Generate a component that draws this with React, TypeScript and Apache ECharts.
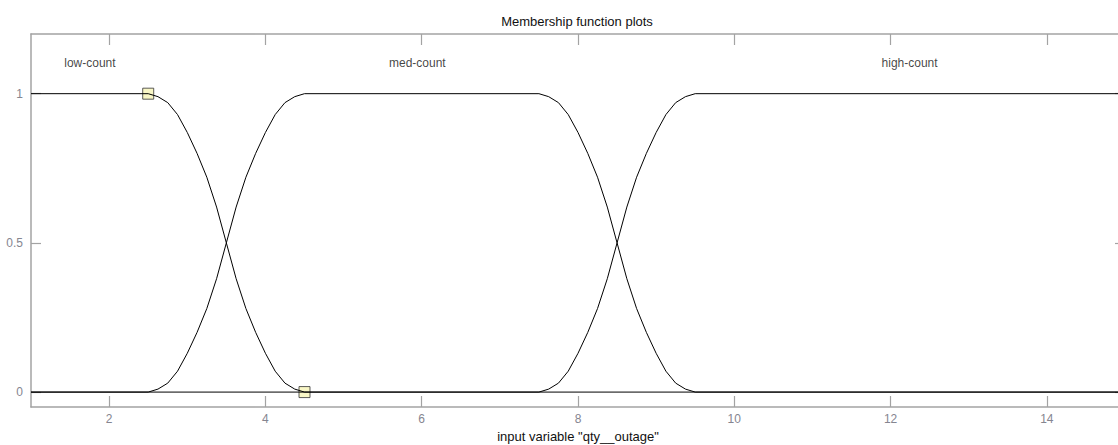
import React, { useEffect, useRef } from "react";
import * as echarts from "echarts";

// Membership functions of input variable "qty__outage"
const lowX = [1, 2.5, 2.625, 2.75, 2.875, 3, 3.125, 3.25, 3.375, 3.5, 3.625, 3.75, 3.875, 4, 4.125, 4.25, 4.375, 4.5, 15];
const lowY = [1, 1, 0.99, 0.97, 0.93, 0.87, 0.8, 0.72, 0.62, 0.5, 0.38, 0.28, 0.2, 0.13, 0.07, 0.03, 0.01, 0, 0];

const medX = [
  1, 2.5, 2.625, 2.75, 2.875, 3, 3.125, 3.25, 3.375, 3.5, 3.625, 3.75, 3.875, 4, 4.125, 4.25, 4.375, 4.5,
  7.5, 7.625, 7.75, 7.875, 8, 8.125, 8.25, 8.375, 8.5, 8.625, 8.75, 8.875, 9, 9.125, 9.25, 9.375, 9.5, 15,
];
const medY = [
  0, 0, 0.01, 0.03, 0.07, 0.13, 0.2, 0.28, 0.38, 0.5, 0.62, 0.72, 0.8, 0.87, 0.93, 0.97, 0.99, 1,
  1, 0.99, 0.97, 0.93, 0.87, 0.8, 0.72, 0.62, 0.5, 0.38, 0.28, 0.2, 0.13, 0.07, 0.03, 0.01, 0, 0,
];

const highX = [1, 7.5, 7.625, 7.75, 7.875, 8, 8.125, 8.25, 8.375, 8.5, 8.625, 8.75, 8.875, 9, 9.125, 9.25, 9.375, 9.5, 15];
const highY = [0, 0, 0.01, 0.03, 0.07, 0.13, 0.2, 0.28, 0.38, 0.5, 0.62, 0.72, 0.8, 0.87, 0.93, 0.97, 0.99, 1, 1];

const markerX = [2.5, 4.5];
const markerY = [1, 0];

const mfNames = ["low-count", "med-count", "high-count"];
const mfLabelX = [1.76, 5.95, 12.25];
const mfLabelY = [1.1, 1.1, 1.1];

const xTicks = [2, 4, 6, 8, 10, 12, 14];
const yTicks = [0, 0.5, 1];

const FONT = "Liberation Sans, Arial, sans-serif";
const AXIS_GRAY = "#a3a3a3";
const LABEL_GRAY = "#858590";

const zip = (xs: number[], ys: number[]) => xs.map((x, i) => [x, ys[i]]);

export default function App() {
  const ref = useRef<HTMLDivElement>(null);

  useEffect(() => {
    if (!ref.current) return;
    const chart = echarts.init(ref.current, undefined, { renderer: "svg" });

    const xAxisBase = {
      type: "value" as const,
      min: 1,
      max: 15,
      axisLine: { show: true, onZero: false, lineStyle: { color: AXIS_GRAY, width: 1.5 } },
      axisTick: { show: true, inside: true, length: 11, customValues: xTicks, lineStyle: { color: AXIS_GRAY, width: 1.2 } },
      splitLine: { show: false },
    };
    const yAxisBase = {
      type: "value" as const,
      min: -0.05,
      max: 1.2,
      axisLine: { show: true, onZero: false, lineStyle: { color: AXIS_GRAY, width: 1.5 } },
      axisTick: { show: true, inside: true, length: 10, customValues: yTicks, lineStyle: { color: AXIS_GRAY, width: 1.2 } },
      splitLine: { show: false },
    };

    const lineSeries = (name: string, xs: number[], ys: number[]) => ({
      name,
      type: "line" as const,
      data: zip(xs, ys),
      showSymbol: false,
      symbol: "none",
      lineStyle: { color: "#000", width: 1 },
      z: 3,
      silent: true,
    });

    chart.setOption({
      animation: false,
      title: {
        text: "Membership function plots",
        left: 572,
        textAlign: "center",
        top: 10,
        textStyle: { fontFamily: FONT, fontSize: 13, fontWeight: "normal", color: "#111" },
      },
      grid: { left: 31, top: 34, right: -7, bottom: 38, containLabel: false, outerBoundsMode: "none" },
      xAxis: [
        {
          ...xAxisBase,
          position: "bottom",
          name: 'input variable "qty__outage"',
          nameLocation: "middle",
          nameGap: 23,
          nameTextStyle: { fontFamily: FONT, fontSize: 13, color: "#111", verticalAlign: "top" },
          axisLabel: {
            show: true,
            customValues: xTicks,
            margin: 6,
            fontFamily: FONT,
            fontSize: 12,
            color: LABEL_GRAY,
          },
        },
        {
          ...xAxisBase,
          position: "top",
          axisLabel: { show: false },
        },
      ],
      yAxis: [
        {
          ...yAxisBase,
          position: "left",
          axisLabel: {
            show: true,
            customValues: yTicks,
            margin: 8,
            fontFamily: FONT,
            fontSize: 12,
            color: LABEL_GRAY,
            formatter: (v: number) => String(v),
          },
        },
        {
          ...yAxisBase,
          position: "right",
          axisLabel: { show: false },
        },
      ],
      series: [
        {
          type: "scatter",
          data: zip(markerX, markerY),
          symbol: "rect",
          symbolSize: 11,
          itemStyle: { color: "#f8f5b8", borderColor: "#333", borderWidth: 1 },
          z: 1,
          silent: true,
        },
        lineSeries("low-count", lowX, lowY),
        lineSeries("med-count", medX, medY),
        lineSeries("high-count", highX, highY),
        {
          type: "scatter",
          data: mfLabelX.map((x, i) => ({ value: [x, mfLabelY[i]], name: mfNames[i] })),
          symbolSize: 1,
          itemStyle: { color: "rgba(0,0,0,0)" },
          label: {
            show: true,
            position: [0, 0],
            align: "center",
            verticalAlign: "middle",
            formatter: (p: any) => p.name,
            fontFamily: FONT,
            fontSize: 12,
            color: "#111",
            textBorderWidth: 0,
          },
          silent: true,
        },
      ],
    });

    return () => chart.dispose();
  }, []);

  return (
    <div
      ref={ref}
      style={{ position: "fixed", left: 0, top: 0, width: 1118, height: 445, background: "#fff" }}
    />
  );
}
